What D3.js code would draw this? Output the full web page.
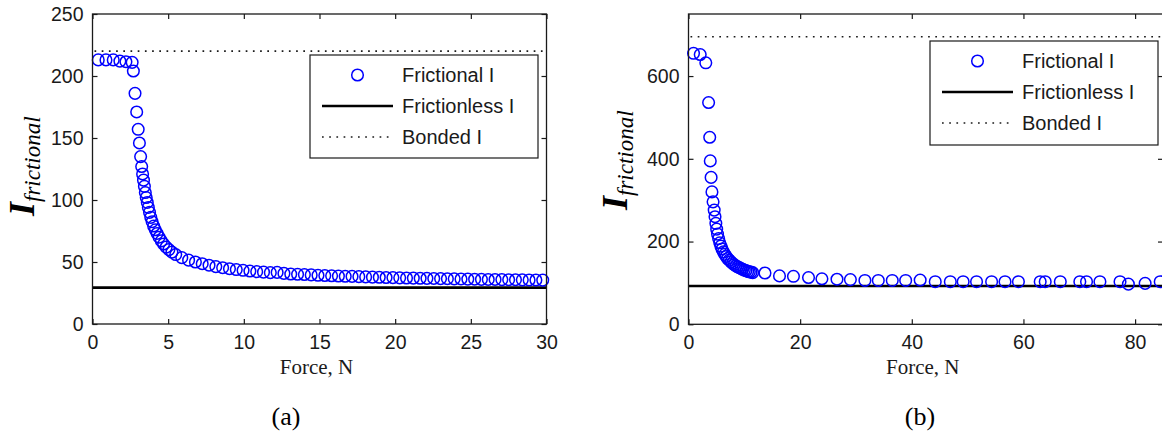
<!DOCTYPE html>
<html>
<head>
<meta charset="utf-8">
<script src="https://cdn.jsdelivr.net/npm/d3@7"></script>
<style>
  html, body { margin: 0; padding: 0; background: #fff; }
  svg { display: block; }
</style>
</head>
<body>
<svg id="chart" width="1162" height="441"></svg>
<script>
// ---------------- data ----------------
// Panel (a)
const forceA = [0.38, 0.89, 1.37, 1.81, 2.21, 2.62, 2.70, 2.81, 2.92, 3.02, 3.10, 3.18, 3.25, 3.31, 3.37,
  3.43, 3.49, 3.55, 3.62, 3.69, 3.77, 3.85, 3.94, 4.04, 4.15, 4.27, 4.40, 4.55, 4.70, 4.87, 5.05,
  5.25, 5.50, 5.90, 6.35, 6.80, 7.25, 7.70, 8.15, 8.60, 9.05, 9.50, 9.95, 10.40, 10.85, 11.30, 11.75,
  12.20, 12.65, 13.10, 13.55, 14.00, 14.45, 14.90, 15.35, 15.80, 16.25, 16.70, 17.15, 17.60, 18.05,
  18.50, 18.95, 19.40, 19.85, 20.30, 20.75, 21.20, 21.65, 22.10, 22.55, 23.00, 23.45, 23.90, 24.35,
  24.80, 25.25, 25.70, 26.15, 26.60, 27.05, 27.50, 27.95, 28.40, 28.85, 29.30, 29.75];
const frictionalA = [213, 213, 213, 212, 211.5, 211, 204, 186, 171, 157, 146, 135, 127, 121, 116,
  111, 106, 102, 98, 94, 90, 86, 82.5, 79, 76, 73, 70, 67, 64.5, 62, 60,
  58, 56, 53.5, 51.5, 50, 48.6, 47.4, 46.3, 45.4, 44.6, 43.9, 43.3, 42.7, 42.2, 41.8, 41.4,
  41.6, 40.8, 40.3, 40.1, 39.9, 39.6, 39.3, 39.1, 38.9, 38.7, 38.5, 38.4, 38.2, 38.0,
  37.8, 37.7, 37.5, 37.4, 37.2, 37.1, 37.0, 36.9, 36.8, 36.7, 36.6, 36.5, 36.4, 36.3,
  36.2, 36.1, 36.0, 35.9, 35.9, 35.8, 35.7, 35.7, 35.6, 35.5, 35.5, 35.4];
const frictionlessA = 29.3;
const bondedA = 220;
const xTicksA = [0, 5, 10, 15, 20, 25, 30];
const yTicksA = [0, 50, 100, 150, 200, 250];

// Panel (b)
const forceB = [0.9, 2.1, 3.1, 3.6, 3.8, 3.9, 4.05, 4.2, 4.4, 4.6, 4.75, 4.9, 5.05, 5.2, 5.4, 5.6,
  5.8, 6.0, 6.25, 6.5, 6.75, 7.0, 7.3, 7.6, 7.9, 8.2, 8.5, 8.8, 9.1, 9.4, 9.7, 10.0, 10.3, 10.6,
  10.9, 11.2, 11.5, 13.7, 16.3, 18.8, 21.5, 23.9, 26.6, 29.0, 31.6, 34.0, 36.5, 38.9, 41.5, 44.2,
  46.9, 49.2, 51.6, 54.3, 56.7, 59.1, 63.0, 63.9, 66.6, 70.1, 71.3, 73.7, 77.3, 78.8, 81.8, 84.5];
const frictionalB = [655, 652, 632, 536, 452, 395, 355, 320, 296, 276, 260, 244, 230, 218, 207, 197,
  189, 182, 175, 169, 164, 159, 155, 151, 147, 144, 141, 139, 137, 135, 133, 131, 130, 128,
  127, 126, 125, 124, 117, 116, 113, 110, 109, 108, 106, 106, 106, 106, 107, 103,
  103, 103, 103, 103, 103, 103, 103, 103, 103, 103, 103, 103, 103, 97, 99, 103];
const frictionlessB = 92.5;
const bondedB = 695;
const xTicksB = [0, 20, 40, 60, 80];
const yTicksB = [0, 200, 400, 600];

const legendLabels = ["Frictional I", "Frictionless I", "Bonded I"];
const captions = ["(a)", "(b)"];

// ---------------- drawing ----------------
const svg = d3.select("#chart");
const BLUE = "#0000ff";
const INK = "#1a1a1a";
const R = 5.8;

function panel(cfg) {
  const x = d3.scaleLinear().domain(cfg.xDomain).range(cfg.xRange);
  const y = d3.scaleLinear().domain(cfg.yDomain).range(cfg.yRange);
  const [x0, x1] = cfg.xRange;
  const [y0, y1] = cfg.yRange; // y0 bottom, y1 top
  const g = svg.append("g");

  // bonded dotted line
  g.append("line")
    .attr("x1", x0 + 2).attr("x2", x1 - 2)
    .attr("y1", y(cfg.bonded)).attr("y2", y(cfg.bonded))
    .attr("stroke", INK).attr("stroke-width", 1.7)
    .attr("stroke-dasharray", "1.7,5.5");

  // frictionless line
  g.append("line")
    .attr("x1", x0).attr("x2", x1)
    .attr("y1", y(cfg.frictionless)).attr("y2", y(cfg.frictionless))
    .attr("stroke", "#000").attr("stroke-width", 2.6);

  // frictional circles
  g.append("g")
    .selectAll("circle")
    .data(cfg.force.map((f, i) => ({ f, v: cfg.values[i] })))
    .join("circle")
    .attr("cx", d => x(d.f)).attr("cy", d => y(d.v))
    .attr("r", R)
    .attr("fill", "none").attr("stroke", BLUE).attr("stroke-width", 1.5);

  // axes (ticks inward on all sides)
  const axStyle = sel => {
    sel.select(".domain").remove();
    sel.selectAll("line").attr("stroke", INK).attr("stroke-width", 1.2);
    sel.selectAll("text").attr("fill", INK)
      .style("font-family", "Arial, 'Liberation Sans', Helvetica, sans-serif")
      .style("font-size", "19.5px");
  };
  g.append("g").attr("transform", `translate(0,${y0})`)
    .call(d3.axisBottom(x).tickValues(cfg.xTicks).tickSizeInner(-5).tickSizeOuter(0).tickPadding(11))
    .call(axStyle);
  g.append("g").attr("transform", `translate(0,${y1})`)
    .call(d3.axisTop(x).tickValues(cfg.xTicks).tickSizeInner(-5).tickSizeOuter(0).tickFormat(""))
    .call(axStyle);
  g.append("g").attr("transform", `translate(${x0},0)`)
    .call(d3.axisLeft(y).tickValues(cfg.yTicks).tickSizeInner(-5).tickSizeOuter(0).tickPadding(9))
    .call(axStyle);
  g.append("g").attr("transform", `translate(${x1},0)`)
    .call(d3.axisRight(y).tickValues(cfg.yTicks).tickSizeInner(-5).tickSizeOuter(0).tickFormat(""))
    .call(axStyle);

  // box
  g.append("rect")
    .attr("x", x0).attr("y", y1).attr("width", x1 - x0).attr("height", y0 - y1)
    .attr("fill", "none").attr("stroke", INK).attr("stroke-width", 1.3);

  // legend
  const L = cfg.legend;
  const lg = g.append("g");
  lg.append("rect")
    .attr("x", L.x).attr("y", L.y).attr("width", L.w).attr("height", L.h)
    .attr("fill", "#fff").attr("stroke", INK).attr("stroke-width", 1.2);
  const rowY = i => L.y + 20 + i * 31;
  lg.append("circle")
    .attr("cx", L.x + 47.5).attr("cy", rowY(0)).attr("r", R)
    .attr("fill", "none").attr("stroke", BLUE).attr("stroke-width", 1.5);
  lg.append("line")
    .attr("x1", L.x + 12).attr("x2", L.x + 83).attr("y1", rowY(1)).attr("y2", rowY(1))
    .attr("stroke", "#000").attr("stroke-width", 2.6);
  lg.append("line")
    .attr("x1", L.x + 12).attr("x2", L.x + 80).attr("y1", rowY(2)).attr("y2", rowY(2))
    .attr("stroke", INK).attr("stroke-width", 1.7).attr("stroke-dasharray", "1.7,5.5");
  lg.selectAll("text.leg").data(legendLabels).join("text")
    .attr("class", "leg")
    .attr("x", L.x + 92).attr("y", (d, i) => rowY(i)).attr("dy", "0.36em")
    .attr("fill", INK)
    .style("font-family", "Arial, 'Liberation Sans', Helvetica, sans-serif")
    .style("font-size", "20px")
    .text(d => d);

  // x label
  g.append("text")
    .attr("x", (x0 + x1) / 2 - 3).attr("y", 374)
    .attr("text-anchor", "middle").attr("fill", INK)
    .style("font-family", "'Times New Roman', 'Liberation Serif', serif")
    .style("font-size", "21px")
    .text("Force, N");

  // y label
  const yl = g.append("text")
    .attr("transform", `translate(${cfg.ylabX},${cfg.ylabY}) rotate(-90)`)
    .attr("fill", "#000")
    .style("font-family", "'Times New Roman', 'Liberation Serif', serif")
    .style("font-style", "italic");
  yl.append("tspan").style("font-size", "36px").style("font-weight", "bold").text("I");
  yl.append("tspan").attr("dy", 6).style("font-size", "23px").text("frictional");

  // caption
  g.append("text")
    .attr("x", cfg.capX).attr("y", 425)
    .attr("text-anchor", "middle").attr("fill", "#000")
    .style("font-family", "'Times New Roman', 'Liberation Serif', serif")
    .style("font-size", "26px")
    .text(cfg.caption);
}

panel({
  id: "a",
  xDomain: [0, 30], xRange: [92.5, 546.5],
  yDomain: [0, 250], yRange: [324, 14],
  force: forceA, values: frictionalA,
  frictionless: frictionlessA, bonded: bondedA,
  xTicks: xTicksA, yTicks: yTicksA,
  legend: { x: 310, y: 55, w: 228, h: 103 },
  ylabX: 34, ylabY: 216, capX: 286, caption: captions[0]
});

panel({
  id: "b",
  xDomain: [0, 85], xRange: [688.5, 1163],
  yDomain: [0, 750], yRange: [324.3, 14],
  force: forceB, values: frictionalB,
  frictionless: frictionlessB, bonded: bondedB,
  xTicks: xTicksB, yTicks: yTicksB,
  legend: { x: 930, y: 41, w: 228, h: 104 },
  ylabX: 627, ylabY: 210, capX: 920, caption: captions[1]
});
</script>
</body>
</html>
